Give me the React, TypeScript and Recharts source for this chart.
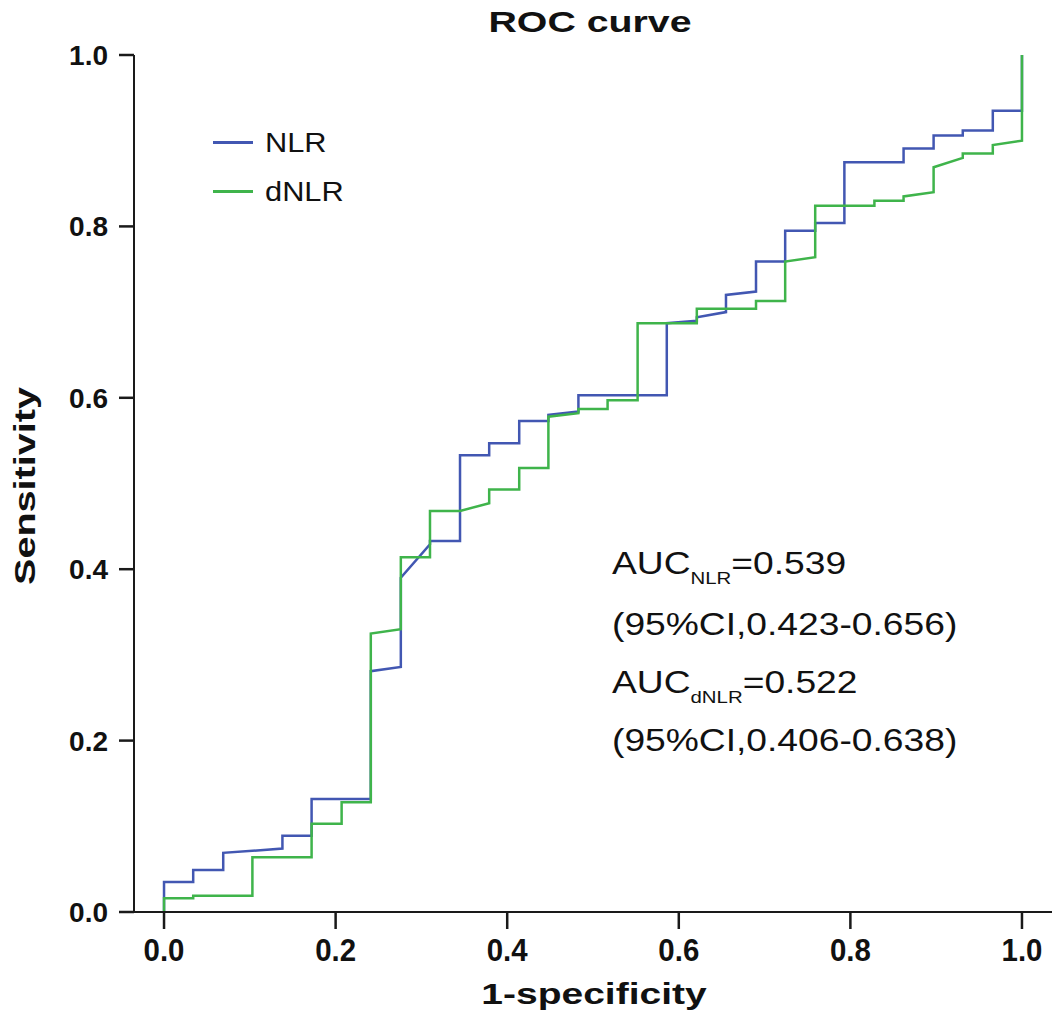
import React from 'react';
import { LineChart, Line, XAxis, YAxis, Legend } from 'recharts';

// ROC vertices (1-specificity, sensitivity)
const nlrFpr = [
  0, 0, 0.034, 0.034, 0.069, 0.069, 0.138, 0.138, 0.172, 0.172, 0.241, 0.241,
  0.276, 0.276, 0.31, 0.31, 0.345, 0.345, 0.379, 0.379, 0.414, 0.414, 0.448,
  0.448, 0.483, 0.483, 0.586, 0.586, 0.621, 0.621, 0.655, 0.655, 0.69, 0.69,
  0.724, 0.724, 0.759, 0.759, 0.793, 0.793, 0.862, 0.862, 0.897, 0.897, 0.931,
  0.931, 0.966, 0.966, 1, 1,
];
const nlrTpr = [
  0, 0.035, 0.035, 0.049, 0.049, 0.069, 0.074, 0.089, 0.089, 0.132, 0.132,
  0.281, 0.286, 0.39, 0.429, 0.433, 0.433, 0.533, 0.533, 0.547, 0.547, 0.573,
  0.573, 0.58, 0.584, 0.603, 0.603, 0.687, 0.69, 0.694, 0.7, 0.72, 0.724, 0.759,
  0.759, 0.795, 0.795, 0.804, 0.804, 0.875, 0.875, 0.891, 0.891, 0.906, 0.906,
  0.912, 0.912, 0.935, 0.935, 1,
];

const dnlrFpr = [
  0, 0, 0.034, 0.034, 0.103, 0.103, 0.172, 0.172, 0.207, 0.207, 0.241, 0.241,
  0.276, 0.276, 0.31, 0.31, 0.345, 0.379, 0.379, 0.414, 0.414, 0.448, 0.448,
  0.483, 0.483, 0.517, 0.517, 0.552, 0.552, 0.621, 0.621, 0.69, 0.69, 0.724,
  0.724, 0.759, 0.759, 0.828, 0.828, 0.862, 0.862, 0.897, 0.897, 0.931, 0.931,
  0.966, 0.966, 1, 1,
];
const dnlrTpr = [
  0, 0.016, 0.016, 0.019, 0.019, 0.064, 0.064, 0.103, 0.103, 0.128, 0.128,
  0.325, 0.33, 0.414, 0.414, 0.468, 0.468, 0.477, 0.493, 0.493, 0.518, 0.518,
  0.578, 0.582, 0.587, 0.587, 0.597, 0.597, 0.687, 0.687, 0.704, 0.704, 0.713,
  0.713, 0.759, 0.764, 0.824, 0.824, 0.83, 0.83, 0.835, 0.84, 0.869, 0.88,
  0.885, 0.885, 0.895, 0.9, 1,
];

const axisTicks = [0, 0.2, 0.4, 0.6, 0.8, 1.0];

const nlrData = nlrFpr.map((x, i) => ({ x, y: nlrTpr[i] }));
const dnlrData = dnlrFpr.map((x, i) => ({ x, y: dnlrTpr[i] }));

const FONT = '"Liberation Sans", Arial, Helvetica, sans-serif';
const FRAME = '#1a1a1a';
const tickStyle = { fontFamily: FONT, fontSize: 28, fontWeight: 700, fill: '#111' };

// x tick labels in the figure are a bit taller and narrower than the y ones
function XTick({ x, y, payload }: any) {
  return (
    <g transform={`translate(${x} ${y}) scale(0.92 1)`}>
      <text x={0} y={0} dy={23} textAnchor="middle" fontFamily={FONT} fontSize={32} fontWeight={700} fill="#111">
        {Number(payload.value).toFixed(1)}
      </text>
    </g>
  );
}

function RocLegend({ payload }: any) {
  return (
    <div style={{ fontFamily: FONT }}>
      {(payload || []).map((p: any) => (
        <div key={p.value} style={{ display: 'flex', alignItems: 'center', height: 49 }}>
          <div style={{ width: 40, height: 3, background: p.color }} />
          <span
            style={{
              marginLeft: 12,
              fontSize: 28,
              color: '#111',
              display: 'inline-block',
              transform: 'scaleX(1.1)',
              transformOrigin: 'left center',
            }}
          >
            {p.value}
          </span>
        </div>
      ))}
    </div>
  );
}

export default function App() {
  return (
    <div style={{ position: 'relative', width: 1063, height: 1025, background: '#fff' }}>
      <style>{'body{margin:0}'}</style>
      <LineChart width={1063} height={1025} margin={{ top: 55, right: 11, left: 0, bottom: 0 }}>
        <XAxis
          type="number"
          dataKey="x"
          domain={[-0.035, 1.035]}
          ticks={axisTicks}
          allowDataOverflow
          height={113}
          tickSize={17}
          tickMargin={9}
          tick={<XTick />}
          axisLine={{ stroke: FRAME, strokeWidth: 2 }}
          tickLine={{ stroke: FRAME, strokeWidth: 2.5 }}
        />
        <XAxis
          xAxisId="top"
          orientation="top"
          type="number"
          domain={[0, 1]}
          height={0}
          tick={false}
          tickLine={false}
          axisLine={{ stroke: FRAME, strokeWidth: 2 }}
        />
        <YAxis
          type="number"
          domain={[0, 1]}
          ticks={axisTicks}
          tickFormatter={(v: number) => v.toFixed(1)}
          width={134}
          tickSize={15}
          tickMargin={11}
          tick={tickStyle}
          axisLine={{ stroke: FRAME, strokeWidth: 2 }}
          tickLine={{ stroke: FRAME, strokeWidth: 2.5 }}
        />
        <YAxis
          yAxisId="right"
          orientation="right"
          type="number"
          domain={[0, 1]}
          width={0}
          tick={false}
          tickLine={false}
          axisLine={{ stroke: FRAME, strokeWidth: 2 }}
        />
        <Legend
          layout="vertical"
          verticalAlign="middle"
          align="center"
          content={<RocLegend />}
          wrapperStyle={{ left: 213, top: 118, width: 200 }}
        />
        <Line
          data={nlrData}
          dataKey="y"
          name="NLR"
          type="linear"
          stroke="#4257b2"
          strokeWidth={2.5}
          dot={false}
          activeDot={false}
          isAnimationActive={false}
        />
        <Line
          data={dnlrData}
          dataKey="y"
          name="dNLR"
          type="linear"
          stroke="#3fb44b"
          strokeWidth={2.5}
          dot={false}
          activeDot={false}
          isAnimationActive={false}
        />
      </LineChart>

      {/* titles and AUC annotation */}
      <svg
        width={1063}
        height={1025}
        style={{ position: 'absolute', left: 0, top: 0, pointerEvents: 'none' }}
        fontFamily={FONT}
        fill="#111"
      >
        <g transform="translate(590 32) scale(1.31 1)">
          <text x={0} y={0} textAnchor="middle" fontSize={30} fontWeight={700}>ROC curve</text>
        </g>
        <g transform="translate(594 1004) scale(1.3 1)">
          <text x={0} y={0} textAnchor="middle" fontSize={30} fontWeight={700}>1-specificity</text>
        </g>
        <g transform="translate(35 486) rotate(-90) scale(1.32 1)">
          <text x={0} y={0} textAnchor="middle" fontSize={30} fontWeight={700}>Sensitivity</text>
        </g>
        <g transform="translate(612 0) scale(1.2 1)" fontSize={31}>
          <text x={0} y={574}>
            AUC<tspan fontSize={17} dy={10}>NLR</tspan><tspan dy={-10}>=0.539</tspan>
          </text>
          <text x={0} y={635}>(95%CI,0.423-0.656)</text>
          <text x={0} y={693}>
            AUC<tspan fontSize={17} dy={10}>dNLR</tspan><tspan dy={-10}>=0.522</tspan>
          </text>
          <text x={0} y={751}>(95%CI,0.406-0.638)</text>
        </g>
      </svg>
    </div>
  );
}
